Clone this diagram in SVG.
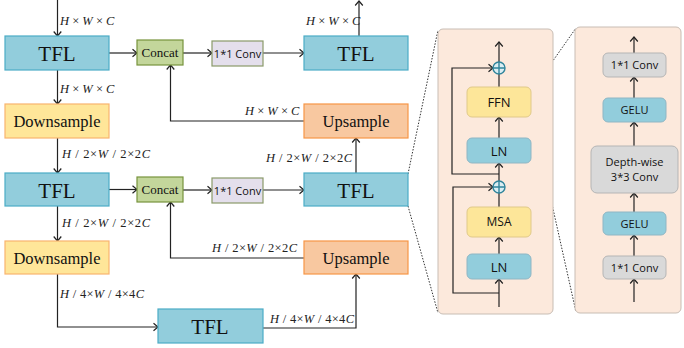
<svg xmlns="http://www.w3.org/2000/svg" width="684" height="348" viewBox="0 0 684 348">
  <style>
    .tfl { fill: #92cddc; stroke: #4bacc6; stroke-width: 1.2; }
    .down { fill: #ffe699; stroke: #f9b46e; stroke-width: 1.2; }
    .up { fill: #f8c8a0; stroke: #f79646; stroke-width: 1.2; }
    .concat { fill: #c3d69b; stroke: #77933c; stroke-width: 1.2; }
    .conv { fill: #e4dfec; stroke: #8a9a6a; stroke-width: 1.2; }
    .panel { fill: #fce9dc; stroke: #c8bdb4; stroke-width: 1; }
    .ln { fill: #92cddc; stroke: #8fb6c4; stroke-width: 1; }
    .yel { fill: #fde699; stroke: #e0c98a; stroke-width: 1; }
    .gray { fill: #d9d9d9; stroke: #b5b5b5; stroke-width: 1; }
    .big { font-family: "Liberation Serif", serif; font-size: 21px; fill: #111; text-anchor: middle; }
    .mid { font-family: "Liberation Serif", serif; font-size: 16.5px; fill: #111; text-anchor: middle; }
    .small { font-family: "Liberation Serif", serif; font-size: 13px; fill: #111; text-anchor: middle; }
    .sans { font-family: "Open Sans", "Noto Sans", sans-serif; font-size: 11px; fill: #111; text-anchor: middle; }
    .sans13 { font-family: "Open Sans", "Noto Sans", sans-serif; font-size: 13px; fill: #111; text-anchor: middle; }
    .lbl { font-family: "Liberation Serif", serif; font-size: 12.5px; fill: #222; }
    .it { font-style: italic; }
    .wire { fill: none; stroke: #222; stroke-width: 1.2; }
    .dash { fill: none; stroke: #333; stroke-width: 1; stroke-dasharray: 1.5 1.5; }
  </style>
  <defs>
    <marker id="arr" markerUnits="userSpaceOnUse" markerWidth="10" markerHeight="10" refX="6" refY="5" orient="auto" overflow="visible">
      <path d="M1.5,1.2 L6,5 L1.5,8.8" fill="none" stroke="#222" stroke-width="1.2"/>
    </marker>
  </defs>

  <!-- zoom guides -->
  <g id="zoom-guides">
    <line class="dash" x1="408" y1="174" x2="438" y2="30"/>
    <line class="dash" x1="408" y1="206" x2="438" y2="313"/>
    <line class="dash" x1="531" y1="92" x2="576" y2="28"/>
    <line class="dash" x1="531" y1="110" x2="576" y2="312"/>
  </g>

  <!-- detail panels -->
  <rect id="panel-tfl" class="panel" x="438" y="29" width="115" height="285" rx="5"/>
  <rect id="panel-ffn" class="panel" x="575" y="27" width="106" height="286" rx="5"/>

  <!-- connectors -->
  <g id="connectors">
    <line class="wire" x1="57.5" y1="0" x2="57.5" y2="36" marker-end="url(#arr)"/>
    <line class="wire" x1="109" y1="53" x2="137" y2="53" marker-end="url(#arr)"/>
    <line class="wire" x1="183" y1="53" x2="212" y2="53" marker-end="url(#arr)"/>
    <line class="wire" x1="263" y1="53" x2="304" y2="53" marker-end="url(#arr)"/>
    <line class="wire" x1="359" y1="36" x2="359" y2="1" marker-end="url(#arr)"/>
    <line class="wire" x1="57.5" y1="70" x2="57.5" y2="104" marker-end="url(#arr)"/>
    <polyline class="wire" points="304,121 170.5,121 170.5,65" marker-end="url(#arr)"/>
    <line class="wire" x1="57.5" y1="138" x2="57.5" y2="173" marker-end="url(#arr)"/>
    <line class="wire" x1="356" y1="173" x2="356" y2="138" marker-end="url(#arr)"/>
    <line class="wire" x1="109" y1="189.5" x2="137" y2="189.5" marker-end="url(#arr)"/>
    <line class="wire" x1="183" y1="190" x2="212" y2="190" marker-end="url(#arr)"/>
    <line class="wire" x1="263" y1="190" x2="304" y2="190" marker-end="url(#arr)"/>
    <line class="wire" x1="57.5" y1="206" x2="57.5" y2="241" marker-end="url(#arr)"/>
    <polyline class="wire" points="304,258 170.5,258 170.5,202" marker-end="url(#arr)"/>
    <polyline class="wire" points="57.5,274 57.5,327 158,327" marker-end="url(#arr)"/>
    <polyline class="wire" points="263,328 356,328 356,274" marker-end="url(#arr)"/>

    <!-- TFL block internals -->
    <line class="wire" x1="499" y1="62" x2="499" y2="42" marker-end="url(#arr)"/>
    <line class="wire" x1="499" y1="87" x2="499" y2="74"/>
    <line class="wire" x1="499" y1="138" x2="499" y2="117" marker-end="url(#arr)"/>
    <line class="wire" x1="499" y1="181" x2="499" y2="163" marker-end="url(#arr)"/>
    <polyline class="wire" points="499,174 452,174 452,68 493,68" marker-end="url(#arr)"/>
    <line class="wire" x1="499" y1="207" x2="499" y2="193"/>
    <line class="wire" x1="499" y1="254" x2="499" y2="237" marker-end="url(#arr)"/>
    <line class="wire" x1="499" y1="307" x2="499" y2="279" marker-end="url(#arr)"/>
    <polyline class="wire" points="499,293 453,293 453,187 493,187" marker-end="url(#arr)"/>

    <!-- FFN internals -->
    <line class="wire" x1="634" y1="53" x2="634" y2="37" marker-end="url(#arr)"/>
    <line class="wire" x1="634" y1="98" x2="634" y2="77" marker-end="url(#arr)"/>
    <line class="wire" x1="634" y1="146" x2="634" y2="122" marker-end="url(#arr)"/>
    <line class="wire" x1="634" y1="212" x2="634" y2="193" marker-end="url(#arr)"/>
    <line class="wire" x1="634" y1="256" x2="634" y2="235" marker-end="url(#arr)"/>
    <line class="wire" x1="634" y1="302" x2="634" y2="279" marker-end="url(#arr)"/>
  </g>

  <!-- shape labels -->
  <g id="dims">
    <text class="lbl" x="60" y="25"><tspan class="it">H</tspan> × <tspan class="it">W</tspan> × <tspan class="it">C</tspan></text>
    <text class="lbl" x="306" y="25"><tspan class="it">H</tspan> × <tspan class="it">W</tspan> × <tspan class="it">C</tspan></text>
    <text class="lbl" x="60" y="93"><tspan class="it">H</tspan> × <tspan class="it">W</tspan> × <tspan class="it">C</tspan></text>
    <text class="lbl" x="245" y="115"><tspan class="it">H</tspan> × <tspan class="it">W</tspan> × <tspan class="it">C</tspan></text>
    <text class="lbl" x="62" y="158" textLength="88"><tspan class="it">H</tspan> / 2×<tspan class="it">W</tspan> / 2×2<tspan class="it">C</tspan></text>
    <text class="lbl" x="266" y="162" textLength="86"><tspan class="it">H</tspan> / 2×<tspan class="it">W</tspan> / 2×2<tspan class="it">C</tspan></text>
    <text class="lbl" x="62" y="227" textLength="88"><tspan class="it">H</tspan> / 2×<tspan class="it">W</tspan> / 2×2<tspan class="it">C</tspan></text>
    <text class="lbl" x="212" y="252" textLength="85"><tspan class="it">H</tspan> / 2×<tspan class="it">W</tspan> / 2×2<tspan class="it">C</tspan></text>
    <text class="lbl" x="60" y="298" textLength="84"><tspan class="it">H</tspan> / 4×<tspan class="it">W</tspan> / 4×4<tspan class="it">C</tspan></text>
    <text class="lbl" x="270" y="323" textLength="84"><tspan class="it">H</tspan> / 4×<tspan class="it">W</tspan> / 4×4<tspan class="it">C</tspan></text>
  </g>

  <!-- main pipeline nodes -->
  <g id="tfl1"><rect class="tfl" x="5" y="36" width="104" height="34"/><text class="big" x="57" y="60.5">TFL</text></g>
  <g id="concat1"><rect class="concat" x="137" y="40" width="46" height="25"/><text class="small" x="160" y="57">Concat</text></g>
  <g id="conv1"><rect class="conv" x="212" y="41" width="51" height="25"/><text class="sans" x="237.5" y="57.5">1*1 Conv</text></g>
  <g id="tfl-out"><rect class="tfl" x="304" y="36" width="104" height="34"/><text class="big" x="356" y="60.5">TFL</text></g>
  <g id="down1"><rect class="down" x="5" y="104" width="104" height="34"/><text class="mid" x="57" y="127">Downsample</text></g>
  <g id="up1"><rect class="up" x="304" y="104" width="104" height="34"/><text class="mid" x="356" y="127">Upsample</text></g>
  <g id="tfl2"><rect class="tfl" x="5" y="173" width="104" height="33"/><text class="big" x="57" y="197.5">TFL</text></g>
  <g id="concat2"><rect class="concat" x="137" y="177" width="46" height="25"/><text class="small" x="160" y="194">Concat</text></g>
  <g id="conv2"><rect class="conv" x="212" y="178" width="51" height="25"/><text class="sans" x="237.5" y="194.5">1*1 Conv</text></g>
  <g id="tfl-mid"><rect class="tfl" x="304" y="173" width="104" height="33"/><text class="big" x="356" y="197.5">TFL</text></g>
  <g id="down2"><rect class="down" x="5" y="241" width="104" height="33"/><text class="mid" x="57" y="263.5">Downsample</text></g>
  <g id="up2"><rect class="up" x="304" y="241" width="104" height="33"/><text class="mid" x="356" y="263.5">Upsample</text></g>
  <g id="tfl3"><rect class="tfl" x="158" y="309" width="105" height="34"/><text class="big" x="210" y="333.5">TFL</text></g>

  <!-- TFL block detail -->
  <g id="add-top"><circle cx="499" cy="68" r="6" fill="#dbeef3" stroke="#31859c" stroke-width="1.4"/><path d="M493,68 H505 M499,62 V74" stroke="#31859c" stroke-width="1.4"/></g>
  <g id="ffn"><rect class="yel" x="467" y="87" width="64" height="30" rx="5"/><text class="sans13" x="499" y="107">FFN</text></g>
  <g id="ln-top"><rect class="ln" x="467" y="138" width="64" height="25" rx="5"/><text class="sans13" x="499" y="155.5">LN</text></g>
  <g id="add-bottom"><circle cx="499" cy="187" r="6" fill="#dbeef3" stroke="#31859c" stroke-width="1.4"/><path d="M493,187 H505 M499,181 V193" stroke="#31859c" stroke-width="1.4"/></g>
  <g id="msa"><rect class="yel" x="467" y="207" width="64" height="30" rx="5"/><text class="sans" x="499" y="226" style="font-size:12px">MSA</text></g>
  <g id="ln-bottom"><rect class="ln" x="467" y="254" width="64" height="25" rx="5"/><text class="sans13" x="499" y="271.5">LN</text></g>

  <!-- FFN detail -->
  <g id="pw-out"><rect class="gray" x="603" y="53" width="63" height="24" rx="5"/><text class="sans" x="634.5" y="69">1*1 Conv</text></g>
  <g id="gelu-top"><rect class="ln" x="603" y="98" width="63" height="24" rx="5"/><text class="sans" x="634.5" y="114">GELU</text></g>
  <g id="dwconv"><rect class="gray" x="591" y="146" width="87" height="47" rx="6"/><text class="sans" x="634.5" y="166">Depth-wise</text><text class="sans" x="634.5" y="181">3*3 Conv</text></g>
  <g id="gelu-bottom"><rect class="ln" x="603" y="212" width="63" height="23" rx="5"/><text class="sans" x="634.5" y="227.5">GELU</text></g>
  <g id="pw-in"><rect class="gray" x="603" y="256" width="63" height="23" rx="5"/><text class="sans" x="634.5" y="271.5">1*1 Conv</text></g>
</svg>
